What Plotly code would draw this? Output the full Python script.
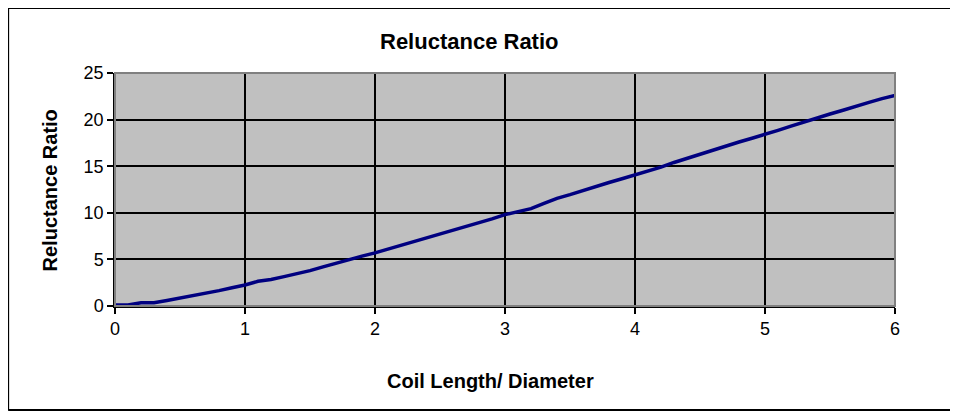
import plotly.graph_objects as go

x_vals = [0.0, 0.1, 0.2, 0.3, 0.4, 0.5, 0.6, 0.7, 0.8, 0.9,
          1.0, 1.1, 1.2, 1.3, 1.4, 1.5, 1.6, 1.7, 1.8, 1.9,
          2.0, 2.1, 2.2, 2.3, 2.4, 2.5, 2.6, 2.7, 2.8, 2.9,
          3.0, 3.1, 3.2, 3.3, 3.4, 3.5, 3.6, 3.7, 3.8, 3.9,
          4.0, 4.1, 4.2, 4.3, 4.4, 4.5, 4.6, 4.7, 4.8, 4.9,
          5.0, 5.1, 5.2, 5.3, 5.4, 5.5, 5.6, 5.7, 5.8, 5.9, 6.0]
ratio = [0.1, 0.1, 0.35, 0.35, 0.6, 0.85, 1.15, 1.4, 1.65, 1.95,
         2.25, 2.65, 2.85, 3.15, 3.45, 3.8, 4.2, 4.6, 5.0, 5.35,
         5.7, 6.1, 6.5, 6.9, 7.3, 7.7, 8.1, 8.5, 8.95, 9.35,
         9.8, 10.1, 10.45, 11.0, 11.55, 11.95, 12.4, 12.85, 13.25, 13.65,
         14.05, 14.45, 14.9, 15.4, 15.85, 16.3, 16.75, 17.15, 17.6, 18.0,
         18.4, 18.85, 19.3, 19.75, 20.15, 20.6, 21.0, 21.45, 21.85, 22.25, 22.6]
x_ticks = [0, 1, 2, 3, 4, 5, 6]
y_ticks = [0, 5, 10, 15, 20, 25]

title_text = "Reluctance Ratio"
x_title = "Coil Length/ Diameter"
y_title = "Reluctance Ratio"

FONT = "Liberation Sans, Arial, sans-serif"

fig = go.Figure()
fig.add_trace(go.Scatter(x=x_vals, y=ratio, mode="lines",
                         line=dict(color="#000080", width=3.5),
                         showlegend=False, hoverinfo="skip"))

fig.update_layout(
    width=942, height=405,
    margin=dict(l=107, r=55, t=65, b=107),
    paper_bgcolor="white",
    plot_bgcolor="#c0c0c0",
    font=dict(family=FONT, size=18, color="black"),
    showlegend=False,
    xaxis=dict(range=[0, 6], tickvals=x_ticks, ticktext=[str(v) for v in x_ticks],
               showgrid=True, gridcolor="black", gridwidth=1.5,
               showline=True, linecolor="black", linewidth=1.5,
               ticks="outside", ticklen=6, tickcolor="black", tickwidth=1.5,
               zeroline=False, tickfont=dict(size=18, family=FONT)),
    yaxis=dict(range=[0, 25], tickvals=y_ticks, ticktext=[str(v) for v in y_ticks],
               showgrid=True, gridcolor="black", gridwidth=1.5,
               showline=True, linecolor="black", linewidth=1.5,
               ticks="outside", ticklen=6, tickcolor="black", tickwidth=1.5,
               zeroline=False, tickfont=dict(size=18, family=FONT)),
    shapes=[
        dict(type="rect", xref="paper", yref="paper", x0=0, x1=1, y0=0, y1=1,
             line=dict(color="#808080", width=2), fillcolor="rgba(0,0,0,0)", layer="above"),
        # outer chart border
        dict(type="line", xref="paper", yref="paper",
             x0=-0.137, x1=1.3, y0=1.279, y1=1.279,
             line=dict(color="black", width=2)),
        dict(type="line", xref="paper", yref="paper",
             x0=-0.137, x1=-0.137, y0=1.279, y1=-0.446,
             line=dict(color="black", width=2)),
        dict(type="line", xref="paper", yref="paper",
             x0=-0.137, x1=1.3, y0=-0.446, y1=-0.446,
             line=dict(color="black", width=2)),
    ],
    annotations=[
        dict(text="<b>" + title_text + "</b>", xref="paper", yref="paper",
             x=0.454, y=1.137, showarrow=False, xanchor="center", yanchor="middle",
             font=dict(size=22, family=FONT)),
        dict(text="<b>" + x_title + "</b>", xref="paper", yref="paper",
             x=0.482, y=-0.322, showarrow=False, xanchor="center", yanchor="middle",
             font=dict(size=20, family=FONT)),
        dict(text="<b>" + y_title + "</b>", xref="paper", yref="paper",
             x=-0.084, y=0.498, showarrow=False, xanchor="center", yanchor="middle",
             textangle=-90, font=dict(size=20, family=FONT)),
    ],
)

fig.write_html("out.html")
